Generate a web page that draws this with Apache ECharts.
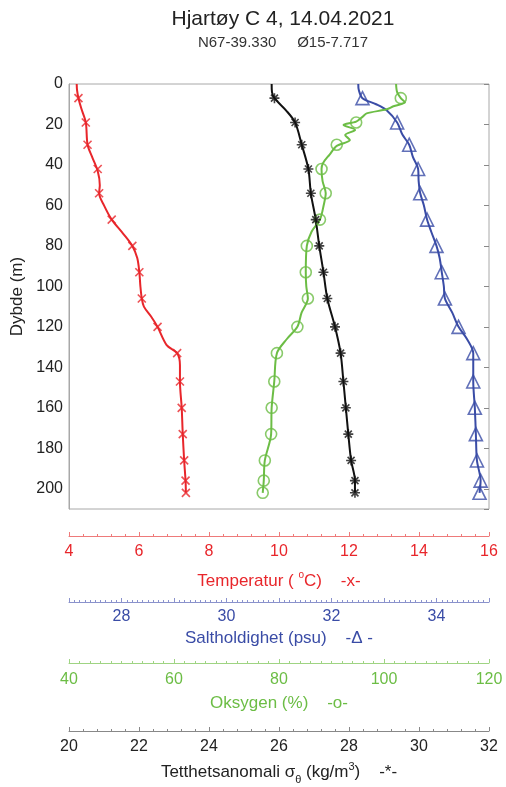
<!DOCTYPE html>
<html>
<head>
<meta charset="utf-8">
<script src="https://cdn.jsdelivr.net/npm/echarts@6/dist/echarts.min.js"></script>
<style>
  html, body { margin: 0; padding: 0; background: #fff; }
  #main { width: 506px; height: 787px; }
</style>
</head>
<body>
<div id="main"></div>
<script>
// dybder for markørene (m)
var markDepth = [7, 19, 30, 42, 54, 67, 80, 93, 106, 120, 133, 147, 160, 173, 186, 196, 202];

// temperatur (C)
var tempLineDepth = [0, 3, 7, 12, 19, 30, 36, 43, 50, 54, 60, 67, 74, 80, 86, 93, 100, 106, 110, 115, 120, 129, 133, 139, 147, 160, 173, 186, 196, 202];
var tempLineVal = [4.22, 4.23, 4.27, 4.35, 4.48, 4.53, 4.66, 4.82, 4.88, 4.86, 5.0, 5.22, 5.55, 5.81, 5.95, 6.01, 6.04, 6.08, 6.14, 6.35, 6.53, 6.79, 7.09, 7.17, 7.17, 7.22, 7.25, 7.29, 7.33, 7.34];
var tempMarks = [4.27, 4.48, 4.53, 4.82, 4.86, 5.22, 5.81, 6.01, 6.08, 6.53, 7.09, 7.17, 7.22, 7.25, 7.29, 7.33, 7.34];

// saltholdighet (psu)
var salLineDepth = [0, 3, 7, 10, 13, 19, 25, 30, 36, 42, 48, 54, 60, 67, 73, 80, 86, 93, 100, 106, 113, 120, 126, 133, 140, 147, 160, 173, 186, 196, 202];
var salLineVal = [32.51, 32.52, 32.59, 32.85, 33.05, 33.25, 33.35, 33.48, 33.55, 33.65, 33.66, 33.69, 33.76, 33.82, 33.9, 34.0, 34.06, 34.10, 34.14, 34.16, 34.3, 34.42, 34.58, 34.70, 34.7, 34.70, 34.73, 34.75, 34.77, 34.84, 34.82];
var salMarks = [32.59, 33.25, 33.48, 33.65, 33.69, 33.82, 34.00, 34.10, 34.16, 34.42, 34.70, 34.70, 34.73, 34.75, 34.77, 34.84, 34.82];

// oksygen (%)
var oxyLineDepth = [0, 4, 7, 9, 11, 12.5, 14.5, 16, 18.6, 20.2, 22.7, 25.2, 27.7, 30.6, 35, 39, 42, 48, 54, 60, 67, 73, 80, 93, 100, 106, 113, 120, 126, 133, 147, 160, 173, 186, 196, 202];
var oxyLineVal = [102.3, 102.5, 103.2, 104.0, 101.8, 100.5, 96.7, 96.0, 94.7, 92.3, 94.5, 92.6, 93.5, 91.0, 89.6, 88.4, 88.1, 88.3, 88.9, 88.5, 87.8, 86.2, 85.3, 85.1, 85.2, 85.5, 84.3, 83.5, 81.5, 79.6, 79.1, 78.6, 78.5, 77.3, 77.1, 76.9];
var oxyMarks = [103.2, 94.7, 91.0, 88.1, 88.9, 87.8, 85.3, 85.1, 85.5, 83.5, 79.6, 79.1, 78.6, 78.5, 77.3, 77.1, 76.9];

// tetthetsanomali (kg/m3)
var densLineDepth = [0, 4, 7, 13, 19, 30, 42, 54, 67, 80, 93, 106, 120, 133, 147, 160, 173, 186, 196, 202];
var densLineVal = [25.79, 25.8, 25.87, 26.2, 26.46, 26.65, 26.84, 26.91, 27.05, 27.15, 27.27, 27.38, 27.6, 27.76, 27.84, 27.91, 27.98, 28.06, 28.17, 28.17];
var densMarks = [25.87, 26.46, 26.65, 26.84, 26.91, 27.05, 27.15, 27.27, 27.38, 27.60, 27.76, 27.84, 27.91, 27.98, 28.06, 28.17, 28.17];

var FONT = 'Liberation Sans, Arial, sans-serif';
var RED = '#e8262b', BLUE = '#3a4ca6', GREEN = '#6cbd45', BLACK = '#111';

function pairs(vals, depths) {
  return vals.map(function (v, i) { return [v, depths[i]]; });
}

function xAx(min, max, interval, minorSplit, offset, color, lineColor, labelMargin, name, nameGap, nameRich) {
  return {
    type: 'value', gridIndex: 0, position: 'bottom', offset: offset,
    min: min, max: max, interval: interval,
    axisLine: { show: true, onZero: false, lineStyle: { color: lineColor, width: 1 } },
    axisTick: { show: true, inside: true, length: 4, lineStyle: { color: lineColor } },
    minorTick: { show: true, splitNumber: minorSplit, length: 2, lineStyle: { color: lineColor } },
    splitLine: { show: false },
    axisLabel: { color: color, fontSize: 16, fontFamily: FONT, margin: labelMargin },
    name: name, nameLocation: 'middle', nameGap: nameGap,
    nameTextStyle: { color: color, fontSize: 17, fontFamily: FONT, rich: nameRich || {} }
  };
}

var xAxes = [
  xAx(4, 16, 2, 5, 27, RED, '#ee7a7a', 8, 'Temperatur ( {sup|o}C)    -x-', 34, {
    sup: { fontSize: 10, color: RED, fontFamily: FONT, padding: [0, 0, 12, 0] }
  }),
  xAx(27, 35, 1, 10, 93, BLUE, '#8a92cc', 7, 'Saltholdighet (psu)    -\u0394 -', 28),
  xAx(40, 120, 20, 10, 154, GREEN, '#9fd483', 9, 'Oksygen (%)    -o-', 32),
  xAx(20, 32, 2, 5, 222, '#222', '#888', 8, 'Tetthetsanomali \u03c3{sub|\u03b8} (kg/m{sup|3})    -*-', 29, {
    sub: { fontSize: 11, color: '#222', fontFamily: FONT, padding: [14, 0, 0, 0] },
    sup: { fontSize: 11, color: '#222', fontFamily: FONT, padding: [0, 0, 12, 0] }
  })
];
xAxes[1].axisLabel.formatter = function (v) { return v % 2 === 0 ? String(v) : ''; };

var crossPath = 'path://M0,0L10,10M10,0L0,10';
var starPath = 'path://M5,0L5,10M0,5L10,5M1.5,1.5L8.5,8.5M1.5,8.5L8.5,1.5';

function profile(xi, vals, depths, color) {
  return {
    type: 'line', xAxisIndex: xi, yAxisIndex: 0,
    data: pairs(vals, depths), showSymbol: false, smooth: 0.3,
    lineStyle: { color: color, width: 2 }, z: 2
  };
}
function marks(xi, vals, symbol, size, color) {
  return {
    type: 'scatter', xAxisIndex: xi, yAxisIndex: 0,
    data: pairs(vals, markDepth), symbol: symbol, symbolSize: size,
    itemStyle: { color: 'none', borderColor: color, borderWidth: 1.6 }, z: 3
  };
}

var chart = echarts.init(document.getElementById('main'));
var option = {
  backgroundColor: '#fff',
  animation: false,
  title: {
    text: 'Hjartøy C 4, 14.04.2021',
    subtext: 'N67-39.330     Ø15-7.717',
    left: 278, top: 4, textAlign: 'center', itemGap: 5,
    textStyle: { fontSize: 21, fontWeight: 'normal', color: '#222', fontFamily: FONT },
    subtextStyle: { fontSize: 15, color: '#333', fontFamily: FONT }
  },
  grid: {
    left: 69, top: 84, width: 420, height: 425,
    outerBoundsMode: 'none',
    show: true, borderColor: '#a8a8a8', borderWidth: 1, backgroundColor: '#fff'
  },
  xAxis: xAxes,
  yAxis: [{
    type: 'value', inverse: true, min: 0, max: 210, interval: 20,
    axisLine: { show: true, lineStyle: { color: '#a8a8a8' } },
    axisTick: { show: false },
    splitLine: { show: false },
    axisLabel: { color: '#222', fontSize: 16, fontFamily: FONT, margin: 6, showMaxLabel: false },
    name: 'Dybde (m)', nameLocation: 'middle', nameGap: 42, nameRotate: 90,
    nameTextStyle: { color: '#222', fontSize: 17, fontFamily: FONT }
  }, {
    type: 'value', inverse: true, min: 0, max: 210, interval: 20, position: 'right',
    axisLine: { show: false },
    axisTick: { show: true, inside: true, length: 5, lineStyle: { color: '#888' } },
    axisLabel: { show: false },
    splitLine: { show: false }
  }],
  series: [
    profile(0, tempLineVal, tempLineDepth, RED),
    marks(0, tempMarks, crossPath, 8, RED),
    profile(1, salLineVal, salLineDepth, BLUE),
    marks(1, salMarks, 'triangle', 13, BLUE),
    profile(2, oxyLineVal, oxyLineDepth, GREEN),
    marks(2, oxyMarks, 'circle', 11, GREEN),
    profile(3, densLineVal, densLineDepth, BLACK),
    marks(3, densMarks, starPath, 10, BLACK)
  ]
};
chart.setOption(option);
</script>
</body>
</html>
